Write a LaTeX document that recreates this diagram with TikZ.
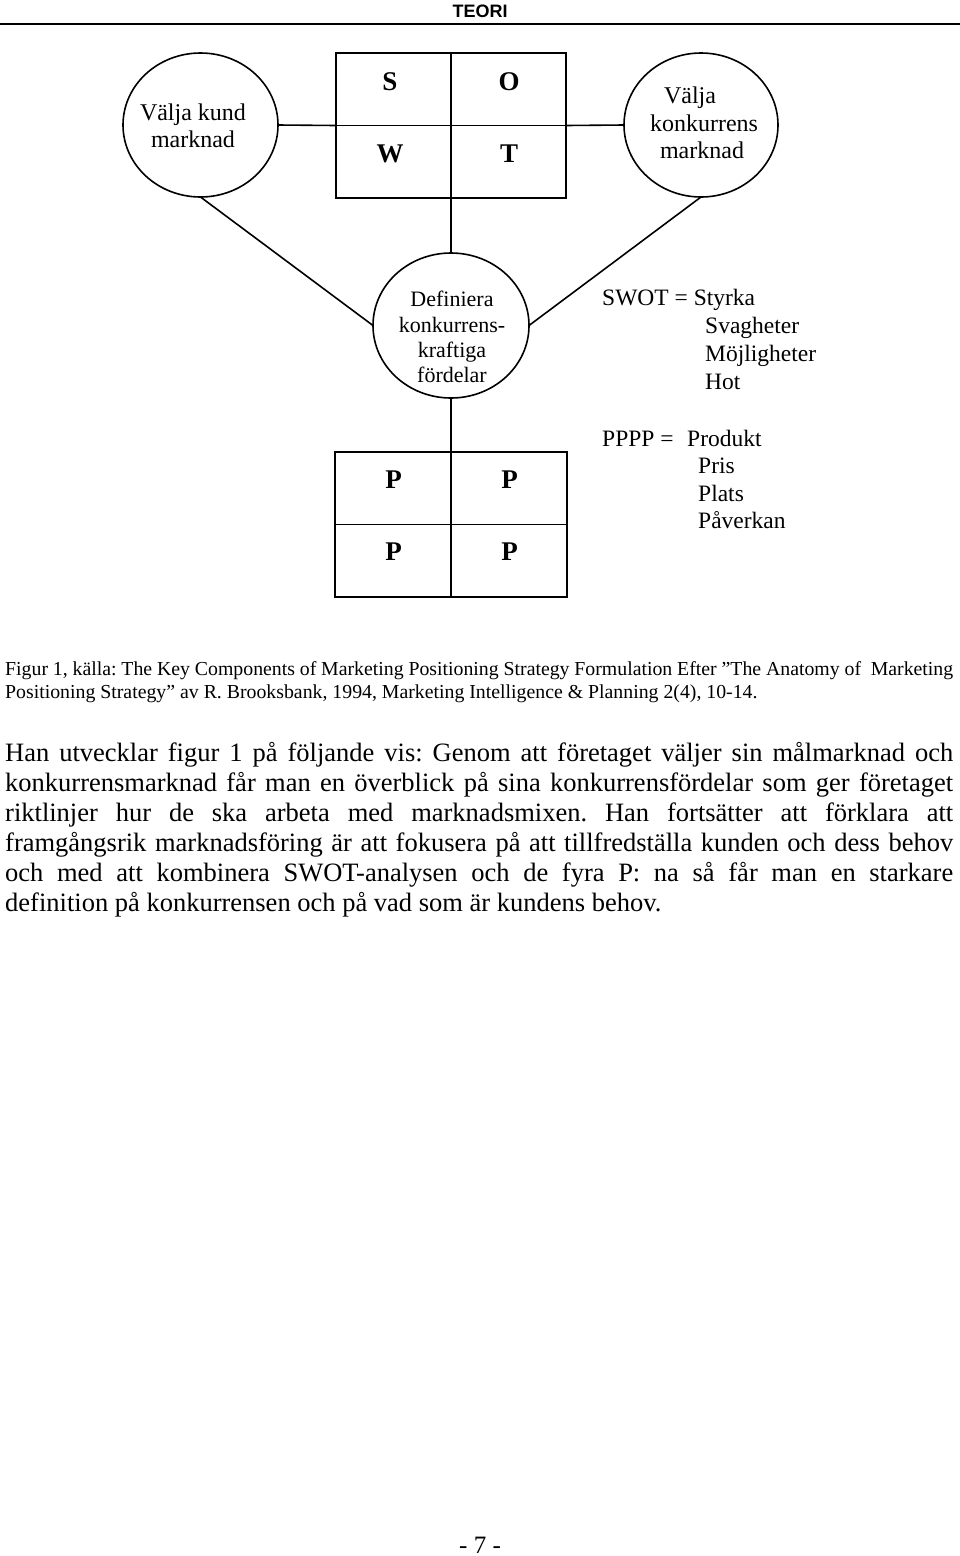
\documentclass[tikz,border=0pt]{standalone}
\usepackage{fontspec}
\setmainfont{Liberation Serif}
\newfontfamily\headfont{Liberation Sans}
\usetikzlibrary{shapes.geometric}
\frenchspacing
\begin{document}
\begin{tikzpicture}[x=1pt,y=-1pt,
  conn/.style={line width=1.6pt},
  oval/.style={ellipse, draw, line width=1.6pt, inner sep=0pt, outer sep=0pt},
  quad/.style={draw, line width=1.8pt, inner sep=0pt, outer sep=0pt},
  ctext/.style={inner sep=0pt, anchor=base, font=\fontsize{24}{28}\selectfont},
  mtext/.style={inner sep=0pt, anchor=base, font=\fontsize{22}{26}\selectfont},
  letter/.style={inner sep=0pt, anchor=base, font=\fontsize{27}{30}\selectfont\bfseries},
  listtext/.style={inner sep=0pt, anchor=base west, font=\fontsize{23.5}{28}\selectfont},
  captext/.style={inner sep=0pt, anchor=base west, font=\fontsize{19.8}{24}\selectfont},
  bodytext/.style={inner sep=0pt, anchor=base west, font=\fontsize{26.5}{30}\selectfont}
]
\useasboundingbox[fill=white] (0,0) rectangle (960,1556);

% header
\node[inner sep=0pt, anchor=base, font=\headfont\bfseries\fontsize{18}{20}\selectfont] (head) at (480,17) {TEORI};
\coordinate (hl) at (0,24);
\coordinate (hr) at (960,24);
\draw[line width=2pt] (hl) -- (hr);

% shapes
\node[oval, minimum width=155pt, minimum height=144pt] (left) at (200.5,125) {};
\node[oval, minimum width=154pt, minimum height=144pt] (right) at (701,125) {};
\node[quad, minimum width=230pt, minimum height=145pt] (swot) at (451,125.5) {};
\draw[line width=1.8pt] (swot.north) -- (swot.south);
\draw[line width=1.8pt] (swot.west) -- (swot.east);
\node[oval, minimum width=156pt, minimum height=145pt] (mid) at (451,325.5) {};
\node[quad, minimum width=232pt, minimum height=145pt] (pp) at (451,524.5) {};
\draw[line width=1.8pt] (pp.north) -- (pp.south);
\draw[line width=1.8pt] (pp.west) -- (pp.east);

% connectors
\draw[conn] (left.east) -- (swot.west);
\draw[conn] (swot.east) -- (right.west);
\draw[conn] (swot.south) -- (mid.north);
\draw[conn] (left.south) -- (mid.west);
\draw[conn] (right.south) -- (mid.east);
\draw[conn] (mid.south) -- (pp.north);

% circle texts
\node[ctext] (l1) at (193,120) {Välja kund};
\node[ctext] (l2) at (193,147) {marknad};
\node[ctext] (r1) at (690,103) {Välja};
\node[ctext] (r2) at (704,131) {konkurrens};
\node[ctext] (r3) at (702,158) {marknad};
\node[mtext] (m1) at (452,306) {Definiera};
\node[mtext] (m2) at (452,332) {konkurrens-};
\node[mtext] (m3) at (452,357) {kraftiga};
\node[mtext] (m4) at (452,382) {fördelar};

% letters
\node[letter] (S) at (390,90) {S};
\node[letter] (O) at (509,90) {O};
\node[letter] (W) at (390,162) {W};
\node[letter] (T) at (509,162) {T};
\node[letter] (P1) at (393.5,488) {P};
\node[letter] (P2) at (509.5,488) {P};
\node[letter] (P3) at (393.5,560) {P};
\node[letter] (P4) at (509.5,560) {P};

% lists
\node[listtext] (sw0) at (602,305) {SWOT = Styrka};
\node[listtext] (sw1) at (705,333) {Svagheter};
\node[listtext] (sw2) at (705,361) {Möjligheter};
\node[listtext] (sw3) at (705,389) {Hot};
\node[listtext] (pp0) at (602,446) {PPPP =};
\node[listtext] (pp1) at (687,446) {Produkt};
\node[listtext] (pp2) at (698,473) {Pris};
\node[listtext] (pp3) at (698,501) {Plats};
\node[listtext] (pp4) at (698,528) {Påverkan};

% caption
\node[captext] (cap1) at (5,675) {\makebox[948pt][s]{Figur 1, källa: The Key Components of Marketing Positioning Strategy Formulation Efter ”The Anatomy of \ Marketing}};
\node[captext] (cap2) at (5,698) {Positioning Strategy” av R. Brooksbank, 1994, Marketing Intelligence \& Planning 2(4), 10-14.};

% body
\node[bodytext] (b1) at (5,761) {\makebox[948pt][s]{Han utvecklar figur 1 på följande vis: Genom att företaget väljer sin målmarknad och}};
\node[bodytext] (b2) at (5,791) {\makebox[948pt][s]{konkurrensmarknad får man en överblick på sina konkurrensfördelar som ger företaget}};
\node[bodytext] (b3) at (5,821) {\makebox[948pt][s]{riktlinjer hur de ska arbeta med marknadsmixen. Han fortsätter att förklara att}};
\node[bodytext] (b4) at (5,851) {\makebox[948pt][s]{framgångsrik marknadsföring är att fokusera på att tillfredställa kunden och dess behov}};
\node[bodytext] (b5) at (5,881) {\makebox[948pt][s]{och med att kombinera SWOT-analysen och de fyra P: na så får man en starkare}};
\node[bodytext] (b6) at (5,911) {definition på konkurrensen och på vad som är kundens behov.};

% page number
\node[inner sep=0pt, anchor=base, font=\fontsize{25}{28}\selectfont] (pg) at (480,1553) {- 7 -};
\end{tikzpicture}
\end{document}
